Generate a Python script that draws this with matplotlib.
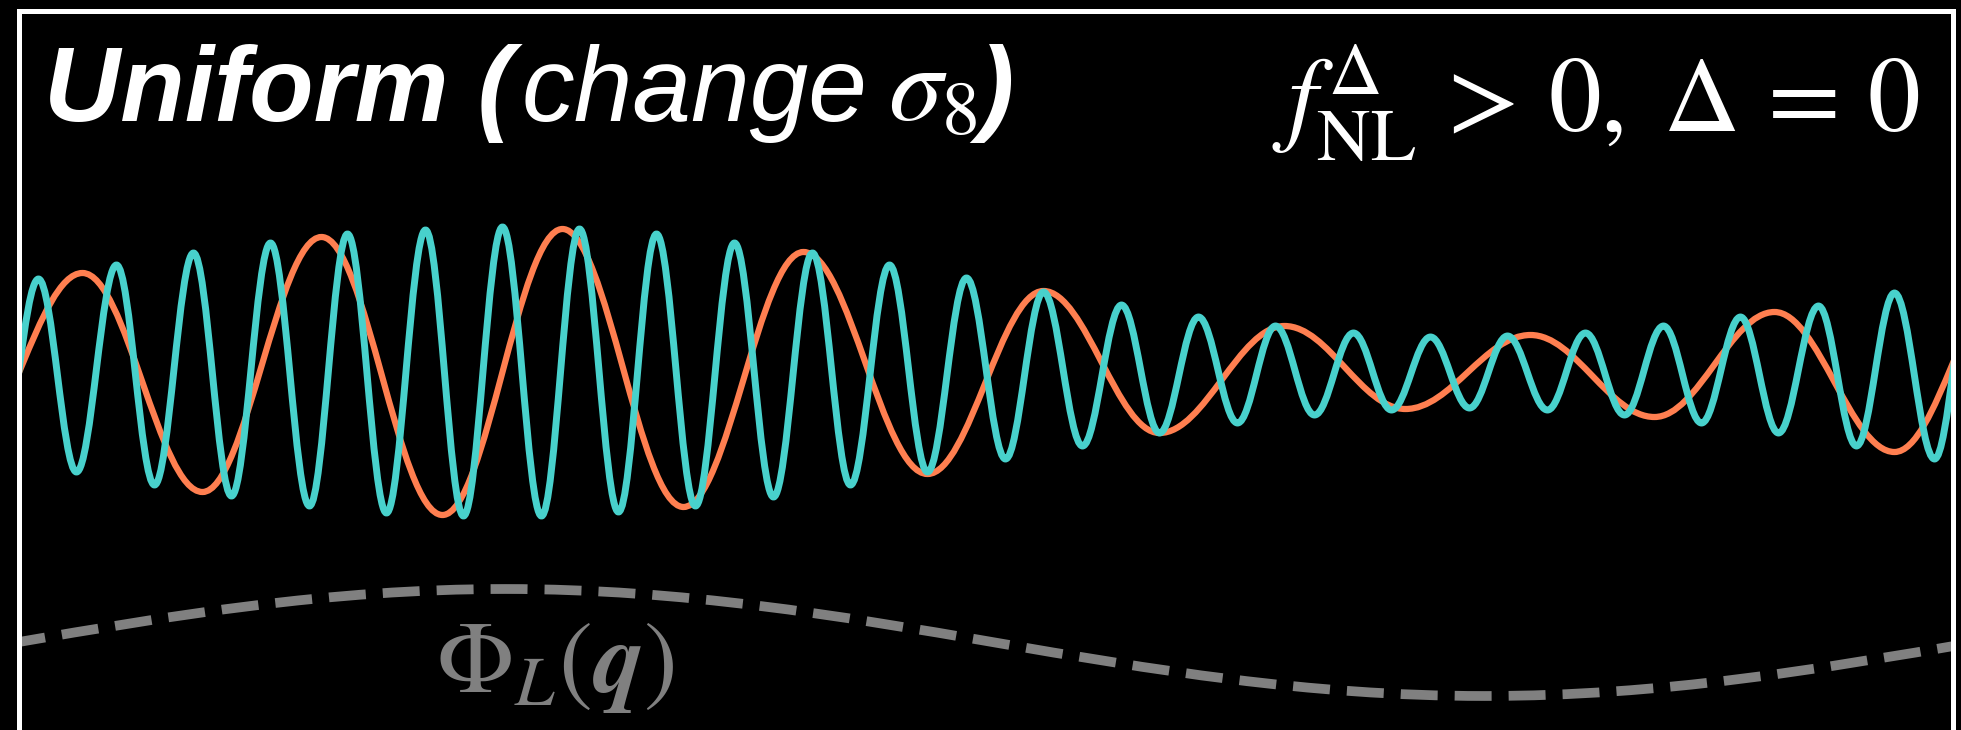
import matplotlib
matplotlib.use("Agg")
import matplotlib.pyplot as plt
from matplotlib.path import Path
from matplotlib.patches import PathPatch

plt.rcParams['mathtext.fontset'] = 'stix'

# ---- data (arbitrary units: q along x, displacement along y) ----
# short-wave (teal) extrema: positions and values
teal_q = [-20, 20, 58, 98, 136, 175, 213, 252, 291, 329, 368, 407, 445, 484,
          523, 561, 600, 638, 677, 716, 755, 794, 832, 871, 909, 948, 987,
          1025, 1064, 1103, 1141, 1180, 1219, 1257, 1296, 1335, 1373, 1412,
          1451, 1489, 1529, 1567, 1606, 1645, 1683, 1722, 1760, 1800, 1838,
          1876, 1916, 1954]
teal_v = [-97, 93, -100, 107, -113, 119, -124, 129, -134, 138, -141, 142,
          -144, 145, -144, 143, -140, 138, -134, 129, -125, 119, -113, 107,
          -100, 94, -87, 80, -74, 67, -61, 55, -51, 46, -43, 39, -38, 35,
          -36, 36, -38, 39, -43, 46, -51, 55, -61, 66, -74, 79, -87, 95]

# longer-wave (orange) extrema
orange_q = [-58, 64, 184, 303, 424, 544, 665, 785, 909, 1025, 1141, 1266,
            1387, 1512, 1636, 1756, 1876, 1992]
orange_v = [-88, 99, -120, 135, -143, 143, -135, 120, -102, 81, -61, 46,
            -37, 37, -45, 60, -80, 96]

# long-wavelength potential Phi_L(q) extrema
phi_q = [-492, 487, 1466, 2445]
phi_v = [-324, -217, -324, -217]

TEAL = '#48D1CC'
ORANGE = '#FF7F50'
GREY = '#808080'

W, H = 1961, 730


def smooth_path(xs, ys, a=0.3634):
    """Bezier path through extrema with horizontal tangents at each point."""
    verts = [(xs[0], ys[0])]
    codes = [Path.MOVETO]
    for i in range(len(xs) - 1):
        dx = xs[i + 1] - xs[i]
        verts += [(xs[i] + a * dx, ys[i]),
                  (xs[i + 1] - a * dx, ys[i + 1]),
                  (xs[i + 1], ys[i + 1])]
        codes += [Path.CURVE4] * 3
    return Path(verts, codes)


fig = plt.figure(figsize=(W / 100, H / 100), dpi=100, facecolor='black')
left, right, top, bottom = 18.5, 1952.5, 11.5, 760
ax = fig.add_axes([left / W, 1 - bottom / H, (right - left) / W,
                   (bottom - top) / H])
ax.set_facecolor('black')
ax.set_xlim(0, 1934)
ax.set_ylim(-388, 360.5)
ax.set_xticks([])
ax.set_yticks([])
for s in ax.spines.values():
    s.set_color('white')
    s.set_linewidth(3.6)
    s.set_zorder(10)

ax.add_patch(PathPatch(smooth_path(phi_q, phi_v), fill=False, edgecolor=GREY,
                       linewidth=7.0, linestyle=(0, (3.8, 1.75)),
                       capstyle='butt', zorder=1))
ax.add_patch(PathPatch(smooth_path(orange_q, orange_v), fill=False,
                       edgecolor=ORANGE, linewidth=4.5, capstyle='round',
                       joinstyle='round', zorder=2))
ax.add_patch(PathPatch(smooth_path(teal_q, teal_v), fill=False,
                       edgecolor=TEAL, linewidth=5.0, capstyle='round',
                       joinstyle='round', zorder=3))


def fx(px):
    return px / W


def fy(py):
    return 1 - py / H


sans = ['Liberation Sans', 'DejaVu Sans']
fig.text(fx(44), fy(121), 'Uniform (', fontsize=76, fontweight='bold',
         fontstyle='italic', family=sans, color='white', va='baseline')
fig.text(fx(522), fy(121), 'change', fontsize=76, fontstyle='italic',
         family=sans, color='white', va='baseline')
fig.text(fx(888), fy(121), r'$\sigma_8$', fontsize=78, color='white',
         va='baseline')
fig.text(fx(978), fy(121), ')', fontsize=76, fontweight='bold',
         fontstyle='italic', family=sans, color='white', va='baseline')

fig.text(fx(1920), fy(132),
         r'$f_{\mathrm{NL}}^{\Delta}\,>\,0,\;\Delta\,=\,0$',
         fontsize=76, color='white', ha='right', va='baseline')

fig.text(fx(436), fy(692), r'$\Phi_L(\boldsymbol{q})$', fontsize=73,
         color=GREY, va='baseline')

fig.savefig('out.png', dpi=100, facecolor='black')
